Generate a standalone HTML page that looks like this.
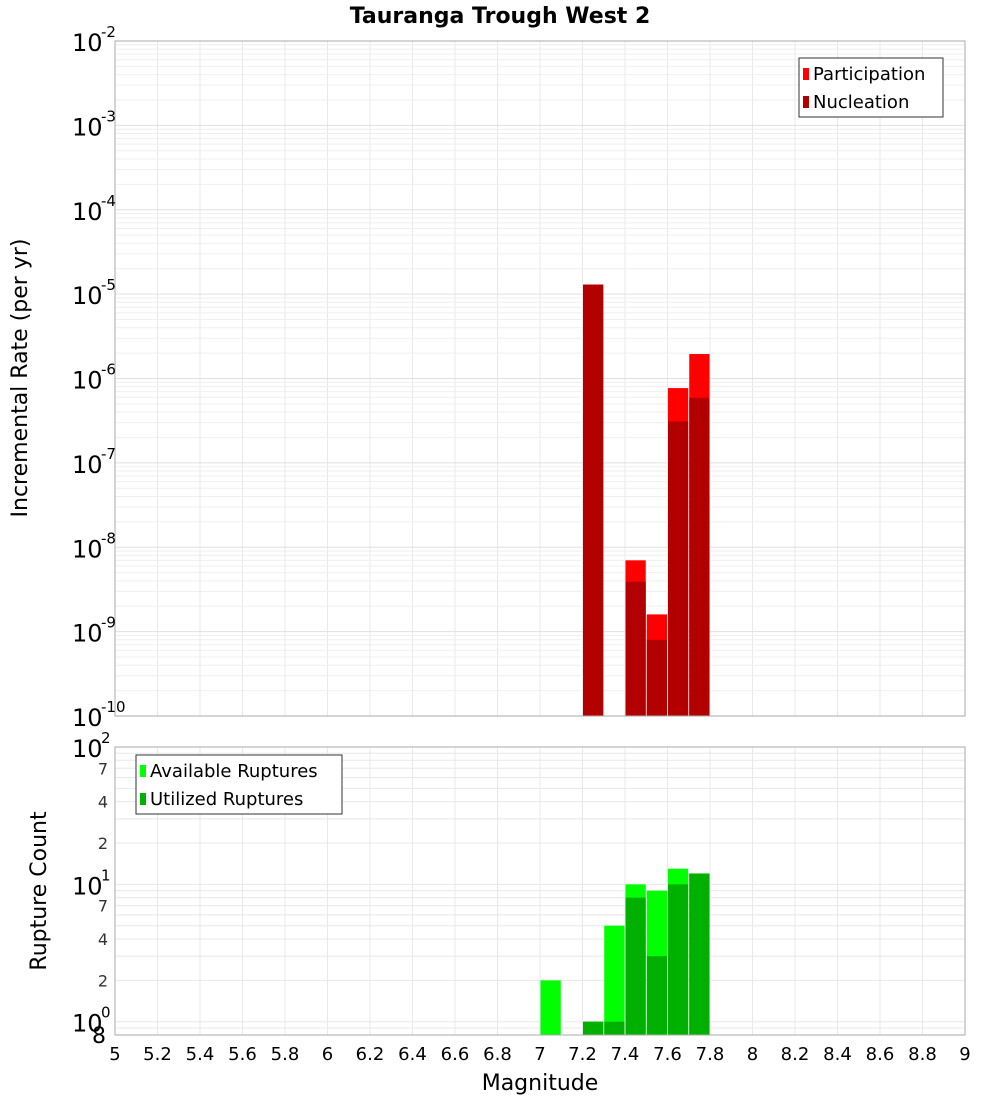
<!DOCTYPE html>
<html><head><meta charset="utf-8"><style>
body{margin:0;background:#fff;font-family:"Liberation Sans","DejaVu Sans",sans-serif}
svg text{font-family:"DejaVu Sans","Liberation Sans",sans-serif}
</style></head><body>
<svg id="c" width="1000" height="1100" xmlns="http://www.w3.org/2000/svg">
<text x="500" y="23" text-anchor="middle" font-size="22" font-weight="bold">Tauranga Trough West 2</text>
<g id="top"></g><g id="bot"></g>
<text transform="translate(27,378) rotate(-90)" text-anchor="middle" font-size="22">Incremental Rate (per yr)</text>
<text transform="translate(46,891) rotate(-90)" text-anchor="middle" font-size="22">Rupture Count</text>
<text x="540" y="1090" text-anchor="middle" font-size="22">Magnitude</text>
</svg>
<script>
const mags=[7.05,7.25,7.35,7.45,7.55,7.65,7.75];
const participation=[0,1.3e-5,0,7e-9,1.6e-9,7.7e-7,1.95e-6];
const nucleation=[0,1.3e-5,0,3.9e-9,8e-10,3.1e-7,5.9e-7];
const available=[2,1,5,10,9,13,12];
const utilized=[0,1,1,8,3,10,12];
const xTicks=[5,5.2,5.4,5.6,5.8,6,6.2,6.4,6.6,6.8,7,7.2,7.4,7.6,7.8,8,8.2,8.4,8.6,8.8,9];
const topExps=[-2,-3,-4,-5,-6,-7,-8,-9,-10];
const NS='http://www.w3.org/2000/svg';
const L=115,R=965;
const X=m=>L+(m-5)/4*(R-L);
const T0=41,T1=716, B0=747,B1=1035;
const yT=v=>T0+(-2-Math.log10(v))/8*(T1-T0);
const bMin=Math.log10(0.8);
const yB=v=>B0+(2-Math.log10(v))/(2-bMin)*(B1-B0);
function el(t,a,p){const e=document.createElementNS(NS,t);for(const k in a)e.setAttribute(k,a[k]);p.appendChild(e);return e;}
const gTop=document.getElementById('top'),gBot=document.getElementById('bot');
for(const g of [[gTop,T0,T1],[gBot,B0,B1]]){
  for(const t of xTicks){const l=el('line',{x1:X(t),x2:X(t),y1:g[1],y2:g[2],stroke:'#e8e8e8'},g[0]);
  
  }
}
for(let e=-10;e<-2;e++)for(let k=1;k<10;k++){const y=yT(k*Math.pow(10,e));
  const l=el('line',{x1:L,x2:R,y1:y,y2:y,stroke:k==1?'#e0e0e0':'#efefef'},gTop);
  
  }
for(let e=-1;e<2;e++)for(let k=1;k<10;k++){const v=k*Math.pow(10,e);if(v<0.8)continue;const y=yB(v);
  const l=el('line',{x1:L,x2:R,y1:y,y2:y,stroke:'#e8e8e8'},gBot);
  
  }
const bw=(X(5.1)-X(5));
mags.forEach((m,i)=>{
  const x=X(m)-bw/2;
  if(participation[i]>0){const r=el('rect',{x:x+0.5,y:yT(participation[i]),width:bw-1,height:T1-yT(participation[i]),fill:'#ff0000'},gTop);
   
   }
  if(nucleation[i]>0){const r=el('rect',{x:x+0.5,y:yT(nucleation[i]),width:bw-1,height:T1-yT(nucleation[i]),fill:'#b20000'},gTop);
   
   }
  if(available[i]>0){const r=el('rect',{x:x+0.5,y:yB(available[i]),width:bw-1,height:B1-yB(available[i]),fill:'#00ff00'},gBot);
   
   }
  if(utilized[i]>0){const r=el('rect',{x:x+0.5,y:yB(utilized[i]),width:bw-1,height:B1-yB(utilized[i]),fill:'#00b000'},gBot);
   
   }
});
el('rect',{x:L,y:T0,width:R-L,height:T1-T0,fill:'none',stroke:'#aaa'},gTop);
el('rect',{x:L,y:B0,width:R-L,height:B1-B0,fill:'none',stroke:'#aaa'},gBot);
topExps.forEach(e=>{const y=yT(Math.pow(10,e));
  const t=el('text',{x:72,y:y+10,'font-size':24},gTop);t.textContent='10';
  
  
  const s=el('text',{x:101,y:y-4,'font-size':15},gTop);s.textContent=String(e);
  
  });
const bl=[[100,'10','2'],[10,'10','1'],[1,'10','0']];
bl.forEach(b=>{const y=yB(b[0]);
  const t=el('text',{x:72,y:y+10,'font-size':24},gBot);t.textContent=b[1];
  
  
  const s=el('text',{x:101,y:y-4,'font-size':15},gBot);s.textContent=b[2];
  
  });
[[70,'7'],[40,'4'],[20,'2'],[7,'7'],[4,'4'],[2,'2'],[0.8,'8']].forEach(b=>{
  const t=el('text',{x:b[0]<1?106:108,y:yB(b[0])+(b[0]<1?8:6),'font-size':b[0]<1?22:16,'text-anchor':'end',fill:b[0]<1?'#000':'#333'},gBot);t.textContent=b[1];
  
  });
xTicks.forEach(t=>{const tx=el('text',{x:X(t),y:1060,'font-size':18,'text-anchor':'middle'},gBot);tx.textContent=String(t);
  
  });
function legend(p,x,y,w,items,name){const g=el('g',{},p);
  el('rect',{x:x,y:y,width:w,height:59,fill:'#fff',stroke:'#333'},g);
  items.forEach((it,i)=>{el('rect',{x:x+4,y:y+10+i*28,width:6,height:12,fill:it[0]},g);
   const t=el('text',{x:x+14,y:y+22+i*28,'font-size':18},g);t.textContent=it[1];
   
   });}
legend(gTop,799,58,144,[['#ff0000','Participation'],['#b20000','Nucleation']],'top-legend');
legend(gBot,136,755,206,[['#00ff00','Available Ruptures'],['#00b000','Utilized Ruptures']],'bottom-legend');
</script>
</body></html>
